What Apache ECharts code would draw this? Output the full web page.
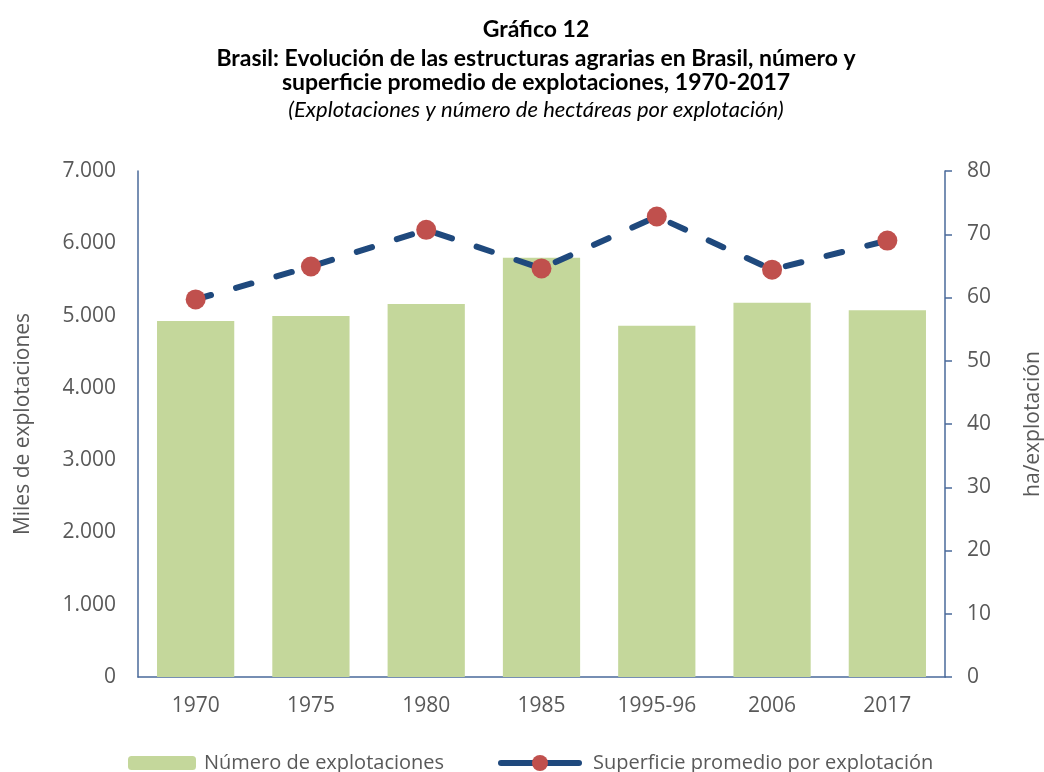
<!DOCTYPE html>
<html>
<head>
<meta charset="utf-8">
<script src="https://cdn.jsdelivr.net/npm/echarts@6/dist/echarts.min.js"></script>
<style>
  html, body { margin: 0; padding: 0; background: #fff; }
  #chart { width: 1044px; height: 772px; }
</style>
</head>
<body>
<div id="chart"></div>
<script>
// datos
const categories = ['1970', '1975', '1980', '1985', '1995-96', '2006', '2017']
const explotaciones = [4924, 4993, 5160, 5801, 4860, 5176, 5073] // miles
const superficie = [59.7, 64.9, 70.7, 64.6, 72.8, 64.4, 69.0] // ha por explotacion

const TITLE_FONT = 'Lato, sans-serif'
const FONT = '"Open Sans", sans-serif'
const GRAY = '#595959'
const AXIS = '#4a6a9a'

const chart = echarts.init(document.getElementById('chart'))

const option = {
  animation: false,
  textStyle: { fontFamily: FONT },
  title: [
    {
      text: 'Gráfico 12',
      left: 531,
      top: 13,
      textAlign: 'center',
      textStyle: { fontSize: 23, fontWeight: 'bold', color: '#000', fontFamily: TITLE_FONT }
    },
    {
      text: 'Brasil: Evolución de las estructuras agrarias en Brasil, número y\nsuperficie promedio de explotaciones, 1970-2017',
      left: 531,
      top: 42,
      textAlign: 'center',
      textStyle: { fontSize: 23, fontWeight: 'bold', color: '#000', lineHeight: 24, fontFamily: TITLE_FONT }
    },
    {
      text: '(Explotaciones y número de hectáreas por explotación)',
      left: 531,
      top: 94,
      textAlign: 'center',
      textStyle: { fontSize: 22, fontStyle: 'italic', fontWeight: 'normal', color: '#000', fontFamily: TITLE_FONT }
    }
  ],
  legend: [
    {
      data: ['Número de explotaciones'],
      left: 123,
      top: 748,
      itemWidth: 68,
      itemHeight: 14,
      itemGap: 0,
      textStyle: { fontSize: 20, color: GRAY, fontFamily: FONT, padding: [0, 0, 0, 3] }
    },
    {
      data: ['Superficie promedio por explotación'],
      left: 493,
      top: 748,
      itemWidth: 78,
      itemHeight: 20,
      lineStyle: { type: 'solid', width: 6, cap: 'round' },
      textStyle: { fontSize: 20, color: GRAY, fontFamily: FONT, padding: [0, 0, 0, 9] }
    }
  ],
  grid: { left: 138, right: 99, top: 171, bottom: 95, outerBoundsMode: 'none', containLabel: false },
  xAxis: {
    type: 'category',
    data: categories,
    axisLine: { lineStyle: { color: AXIS, width: 1.5 } },
    axisTick: { show: false },
    axisLabel: { fontSize: 21, color: GRAY, margin: 19, fontFamily: FONT }
  },
  yAxis: [
    {
      type: 'value',
      min: 0,
      max: 7000,
      interval: 1000,
      name: 'Miles de explotaciones',
      nameLocation: 'middle',
      nameGap: 104,
      nameTextStyle: { fontSize: 21, color: GRAY, fontFamily: FONT },
      axisLine: { show: true, lineStyle: { color: AXIS, width: 1.5 } },
      axisTick: { show: false },
      splitLine: { show: false },
      axisLabel: {
        fontSize: 21,
        color: GRAY,
        margin: 22,
        fontFamily: FONT,
        formatter: v => v.toString().replace(/\B(?=(\d{3})+(?!\d))/g, '.')
      }
    },
    {
      type: 'value',
      min: 0,
      max: 80,
      interval: 10,
      position: 'right',
      name: 'ha/explotación',
      nameLocation: 'middle',
      nameGap: 78,
      nameRotate: 90,
      nameTextStyle: { fontSize: 21, color: GRAY, fontFamily: FONT },
      axisLine: { show: true, lineStyle: { color: AXIS, width: 1.5 } },
      axisTick: { show: true, length: 7, lineStyle: { color: AXIS, width: 1.5 } },
      splitLine: { show: false },
      axisLabel: { fontSize: 21, color: GRAY, margin: 22, fontFamily: FONT }
    }
  ],
  series: [
    {
      name: 'Número de explotaciones',
      type: 'bar',
      data: explotaciones,
      barCategoryGap: '33%',
      itemStyle: { color: '#c4d79b' }
    },
    {
      name: 'Superficie promedio por explotación',
      type: 'line',
      yAxisIndex: 1,
      data: superficie,
      symbol: 'circle',
      symbolSize: 20,
      itemStyle: { color: '#c0504d' },
      lineStyle: { color: '#1f497d', width: 6, type: [16, 26], cap: 'round' },
      z: 3
    }
  ]
}

chart.setOption(option)
</script>
</body>
</html>
